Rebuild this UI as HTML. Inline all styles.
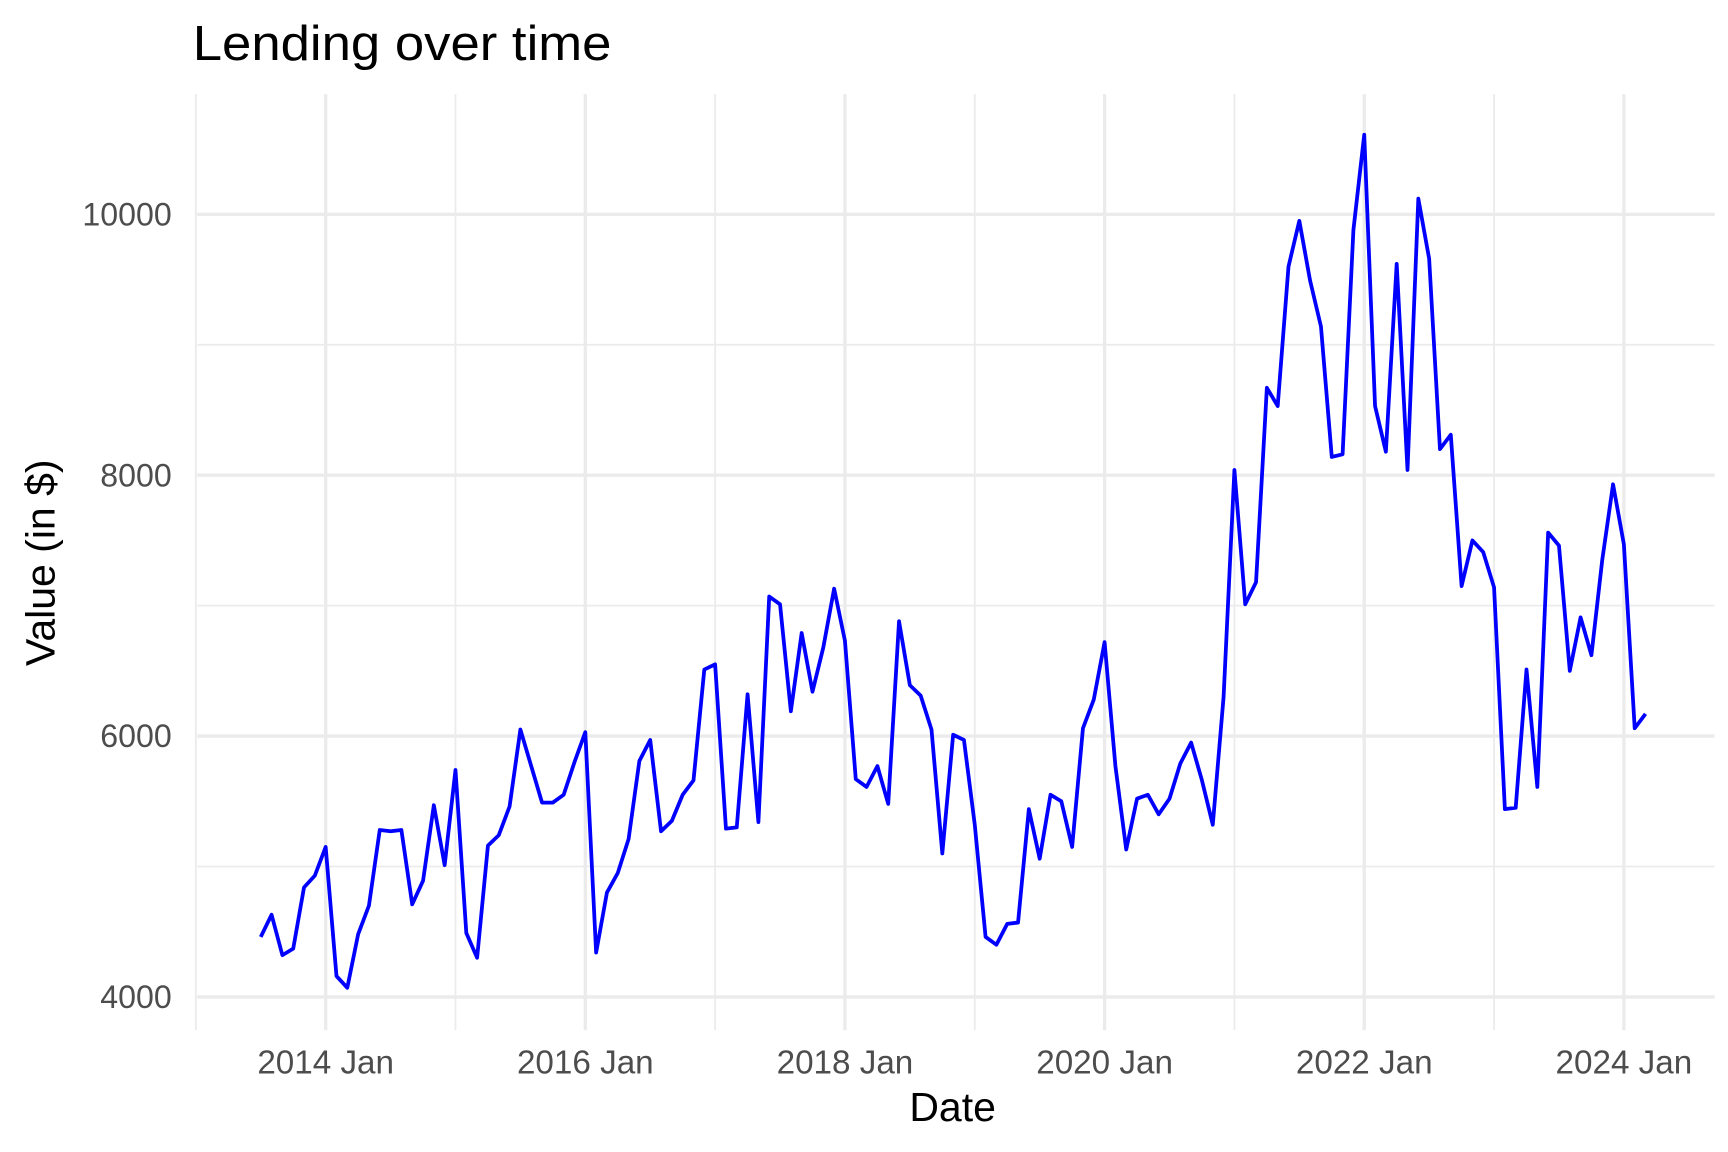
<!DOCTYPE html>
<html><head><meta charset="utf-8"><title>Lending over time</title>
<style>html,body{margin:0;padding:0;background:#fff}svg{display:block}</style></head>
<body>
<svg id="chart" width="1728" height="1152" viewBox="0 0 1560 1040" xmlns="http://www.w3.org/2000/svg" font-family="Liberation Sans, Arial, sans-serif">
<rect width="1560" height="1040" fill="#fff"/>
<g id="grid"></g>
<g id="series"></g>
<g id="axes"></g>
<text x="174" y="54" font-size="44" textLength="378" lengthAdjust="spacingAndGlyphs" fill="#000">Lending over time</text>
<text x="860" y="1012" font-size="37" text-anchor="middle" fill="#000">Date</text>
<text transform="translate(49,508) rotate(-90)" font-size="37" text-anchor="middle" fill="#000">Value (in $)</text>
</svg>
<script>
const startYear = 2013;
const startMonth = 7;
const values = [4460,4630,4320,4370,4840,4930,
5150,4160,4070,4480,4700,5280,5270,5280,4710,4890,5470,5010,
5740,4490,4300,5160,5240,5460,6050,5770,5490,5490,5550,5800,
6030,4340,4800,4950,5210,5810,5970,5270,5350,5550,5660,6510,
6550,5290,5300,6320,5340,7070,7010,6190,6790,6340,6680,7130,
6730,5670,5610,5770,5480,6880,6390,6310,6050,5100,6010,5970,
5320,4460,4400,4560,4570,5440,5060,5550,5500,5150,6060,6280,
6720,5770,5130,5520,5550,5400,5520,5790,5950,5660,5320,6300,
8040,7010,7180,8670,8530,9600,9950,9490,9140,8140,8160,9880,
10610,8530,8180,9620,8040,10120,9660,8200,8310,7150,7500,7410,
7140,5440,5450,6510,5610,7560,7460,6500,6910,6620,7350,7930,
7470,6060,6170];
const yTicks = [4000,6000,8000,10000];
const yMinor = [5000,7000,9000];
const xTickYears = [2014,2016,2018,2020,2022,2024];
const xMinorYears = [2013,2015,2017,2019,2021,2023];

const NS = 'http://www.w3.org/2000/svg';
const PL = 178, PR = 1548, PT = 85, PB = 930;
function xScale(year, month) { return 294 + ((year - 2014) * 12 + (month - 1)) * (234.4 / 24); }
function yScale(v) { return 900 - (v - 4000) * (235.5 / 2000); }
function mk(tag, attrs, parent) {
  const el = document.createElementNS(NS, tag);
  for (const k in attrs) el.setAttribute(k, attrs[k]);
  parent.appendChild(el);
  return el;
}
const grid = document.getElementById('grid');
const axes = document.getElementById('axes');
const series = document.getElementById('series');

yMinor.forEach(v => {
  const l = mk('line', {x1: PL, x2: PR, y1: yScale(v), y2: yScale(v), stroke: '#ebebeb', 'stroke-width': 1.6}, grid);
  
  
});
xMinorYears.forEach(y => {
  const x = xScale(y, 1);
  const l = mk('line', {x1: x, x2: x, y1: PT, y2: PB, stroke: '#ebebeb', 'stroke-width': 1.6}, grid);
  
  
});
yTicks.forEach(v => {
  const y = yScale(v);
  const l = mk('line', {x1: PL, x2: PR, y1: y, y2: y, stroke: '#ebebeb', 'stroke-width': 3}, grid);
  
  
  const t = mk('text', {x: 155, y: y + 10, 'font-size': 29, 'text-anchor': 'end', fill: '#4d4d4d'}, axes);
  t.textContent = String(v);
  
  
});
xTickYears.forEach(yr => {
  const x = xScale(yr, 1);
  const l = mk('line', {x1: x, x2: x, y1: PT, y2: PB, stroke: '#ebebeb', 'stroke-width': 3}, grid);
  
  
  const t = mk('text', {x: x, y: 969, 'font-size': 30, 'text-anchor': 'middle', fill: '#4d4d4d'}, axes);
  t.textContent = yr + ' Jan';
  
  
});
const pts = values.map((v, i) => {
  const m = startMonth - 1 + i;
  const yr = startYear + Math.floor(m / 12);
  const mo = (m % 12) + 1;
  return xScale(yr, mo).toFixed(2) + ',' + yScale(v).toFixed(2);
});
const line = mk('polyline', {points: pts.join(' '), fill: 'none', stroke: '#0000ff', 'stroke-width': 3.4, 'stroke-linejoin': 'round'}, series);


</script>
</body></html>
